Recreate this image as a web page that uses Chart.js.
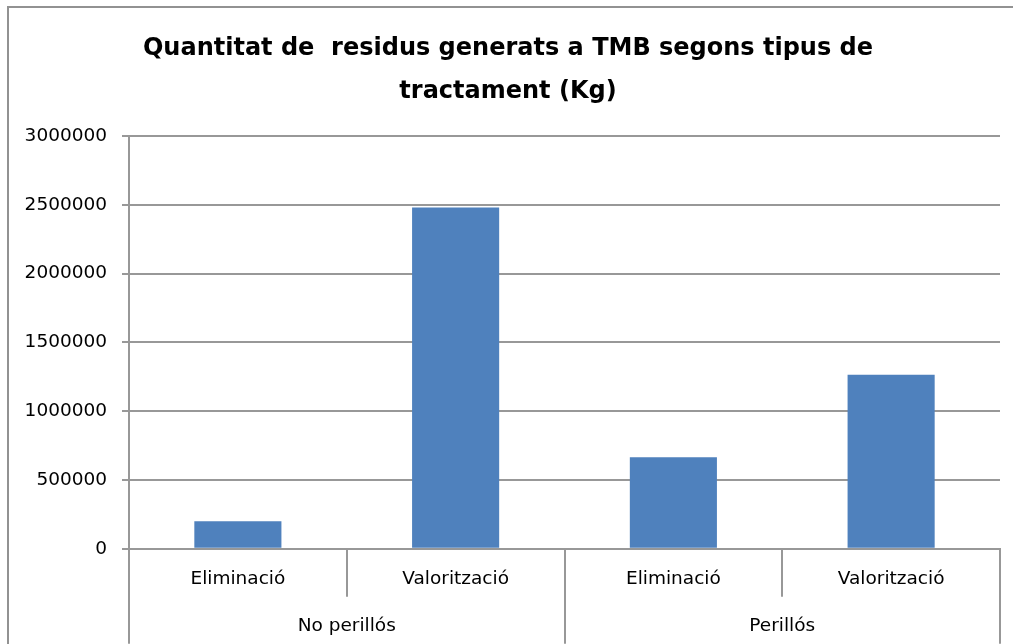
<!DOCTYPE html>
<html lang="ca">
<head>
    <meta charset="UTF-8">
    <title>Quantitat de residus generats a TMB</title>
    <script src="https://cdn.jsdelivr.net/npm/chart.js"></script>
    <style>
        html, body {
            margin: 0;
            padding: 0;
            background: #ffffff;
        }

        .frame {
            position: absolute;
            left: 7px;
            top: 6px;
            width: 1100px;
            height: 700px;
            border-left: 2px solid #929292;
            border-top: 2px solid #929292;
        }

        .chart-container {
            position: absolute;
            left: 0;
            top: 0;
            width: 1013px;
            height: 644px;
        }
    </style>
</head>
<body>
    <div class="frame"></div>
    <div class="chart-container">
        <canvas id="tmbChart" width="1013" height="644"></canvas>
    </div>

    <script>
        // Data
        const treatments = ['Eliminació', 'Valorització', 'Eliminació', 'Valorització'];
        const groups = ['No perillós', 'Perillós'];
        const quantities = [200000, 2480000, 665000, 1265000];
        const yTicks = [0, 500000, 1000000, 1500000, 2000000, 2500000, 3000000];
        const titleLines = ['Quantitat de  residus generats a TMB segons tipus de', 'tractament (Kg)'];

        const lineColor = '#989898';
        const labelFont = { family: 'DejaVu Sans', size: 18.5, lineHeight: 1.2 };

        const ctx = document.getElementById('tmbChart').getContext('2d');
        const tmbChart = new Chart(ctx, {
            type: 'bar',
            data: {
                labels: treatments,
                datasets: [{
                    label: 'Kg',
                    data: quantities,
                    backgroundColor: '#4f81bd',
                    borderWidth: 0,
                    barPercentage: 0.4,
                    categoryPercentage: 1.0,
                    xAxisID: 'x',
                }],
            },
            options: {
                responsive: false,
                animation: false,
                layout: {
                    // left padding kept small so the y labels are not clipped
                    padding: { left: 16, right: 13, top: 0, bottom: 0 },
                },
                plugins: {
                    legend: { display: false },
                    tooltip: { enabled: false },
                    title: {
                        display: true,
                        text: titleLines,
                        color: '#000000',
                        font: { family: 'DejaVu Sans', size: 24, weight: 'bold', lineHeight: 1.79 },
                        padding: { top: 27.5, bottom: 22.5 },
                    },
                },
                scales: {
                    y: {
                        min: 0,
                        max: 3000000,
                        afterBuildTicks: (scale) => {
                            scale.ticks = yTicks.map(v => ({ value: v }));
                        },
                        afterFit: (scale) => {
                            scale.width = 113;
                        },
                        grid: {
                            color: lineColor,
                            lineWidth: 2,
                            tickLength: 7,
                        },
                        border: { display: true, color: lineColor, width: 2 },
                        ticks: {
                            color: '#000000',
                            font: labelFont,
                            padding: 15,
                            callback: (value) => String(value),
                        },
                    },
                    // inner level of the category axis
                    x: {
                        type: 'category',
                        position: 'bottom',
                        weight: 0,
                        offset: true,
                        afterFit: (scale) => {
                            scale.height = 47;
                        },
                        grid: {
                            offset: true,
                            drawOnChartArea: false,
                            color: lineColor,
                            lineWidth: 2,
                            tickLength: 48,
                        },
                        border: { display: true, color: lineColor, width: 2 },
                        ticks: {
                            color: '#000000',
                            font: labelFont,
                            padding: -29,
                            maxRotation: 0,
                            autoSkip: false,
                        },
                    },
                    // outer level: group names
                    x2: {
                        type: 'category',
                        position: 'bottom',
                        weight: 1,
                        labels: groups,
                        offset: true,
                        afterFit: (scale) => {
                            scale.height = 48.3;
                        },
                        grid: {
                            offset: true,
                            drawOnChartArea: false,
                            color: lineColor,
                            lineWidth: 2,
                            tickLength: 48,
                        },
                        border: { display: false },
                        ticks: {
                            color: '#000000',
                            font: labelFont,
                            padding: -29,
                            maxRotation: 0,
                            autoSkip: false,
                        },
                    },
                },
            },
        });
    </script>
</body>
</html>
